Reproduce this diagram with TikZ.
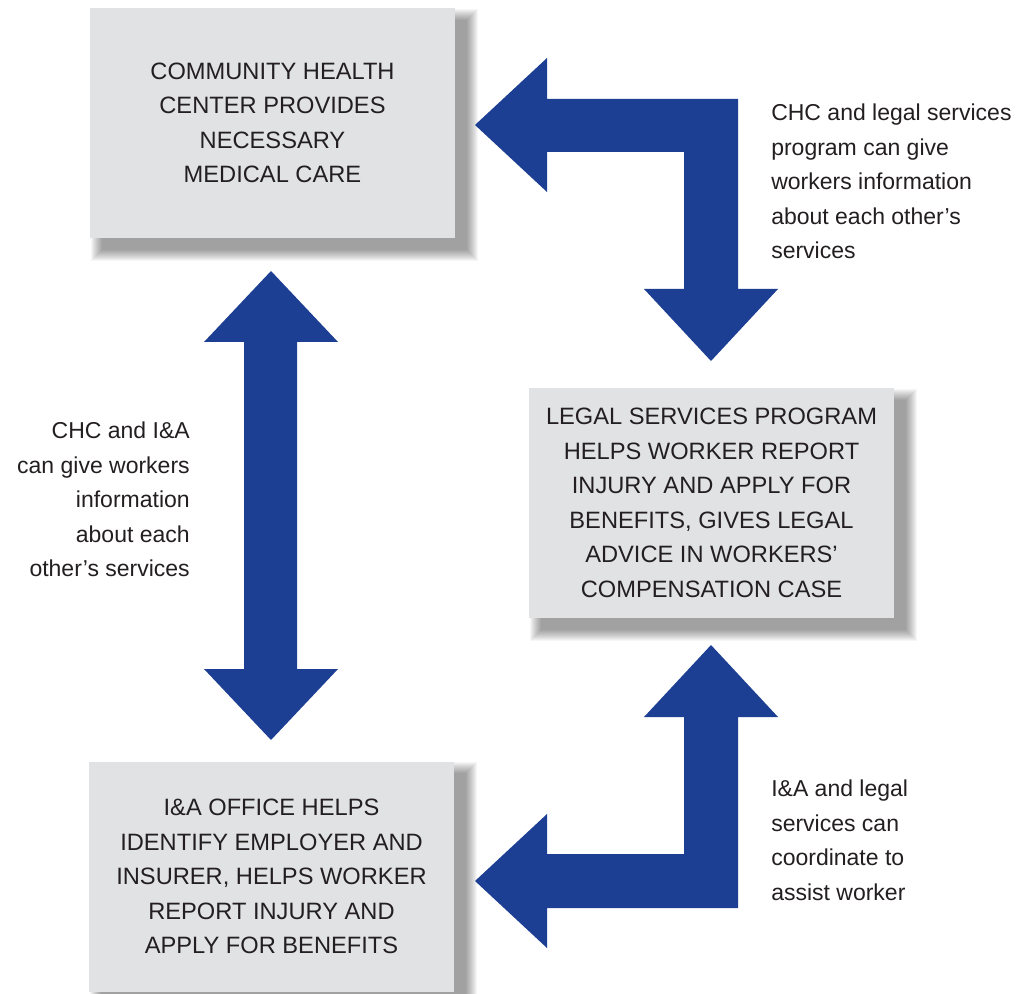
\documentclass[tikz,border=0pt]{standalone}
\usepackage{fontspec}
\setmainfont{Liberation Sans}
\pgfdeclarelayer{background}
\pgfdeclarelayer{canvas}
\pgfsetlayers{canvas,background,main}
\definecolor{boxgray}{HTML}{E1E2E4}
\definecolor{arrowblue}{HTML}{1D3F93}
\definecolor{txt}{HTML}{231F20}
\tikzset{
  infobox/.style={fill=boxgray, minimum width=273.75pt, minimum height=172.5pt, inner sep=0pt, align=center, text=txt, font=\fontsize{17.75}{25.9}\selectfont},
  note/.style={inner sep=0pt, text=txt, font=\fontsize{17.25}{25.9}\selectfont},
  blockarrow/.style={fill=arrowblue, draw=none}
}
\newcommand{\boxshade}[1]{%
  \begin{pgfonlayer}{background}
  \foreach \i in {0,...,11}{
    \fill[black, opacity=0.035] ([shift={(1+\i,1+\i)}]#1.north west) rectangle ([shift={(23-\i,23-\i)}]#1.south east);
  }
  \end{pgfonlayer}}
\begin{document}
\begin{tikzpicture}[x=0.75pt, y=-0.75pt]
\begin{pgfonlayer}{canvas}
\fill[white] (0,0) rectangle (1020,994);
\end{pgfonlayer}
\useasboundingbox (0,0) rectangle (1020,994);

\node[infobox] (chc) at (272.5,123) {COMMUNITY HEALTH\\CENTER PROVIDES\\NECESSARY\\MEDICAL CARE};
\node[infobox] (legal) at (711.5,503) {LEGAL SERVICES PROGRAM\\HELPS WORKER REPORT\\INJURY AND APPLY FOR\\BENEFITS, GIVES LEGAL\\ADVICE IN WORKERS'\\COMPENSATION CASE};
\node[infobox] (ia) at (271.5,876.5) {I\&A OFFICE HELPS\\IDENTIFY EMPLOYER AND\\INSURER, HELPS WORKER\\REPORT INJURY AND\\APPLY FOR BENEFITS};
\boxshade{chc}
\boxshade{legal}
\boxshade{ia}

% vertical double arrow (CHC <-> I&A)
\fill[blockarrow] (271,271) -- (338,342) -- (297,342) -- (297,669) -- (338,669) -- (271,740)
  -- (204,669) -- (244,669) -- (244,342) -- (204,342) -- cycle;

% top-right L arrow (CHC <-> Legal)
\fill[blockarrow] (475,125) -- (547,58) -- (547,99) -- (738,99) -- (738,289) -- (778,289)
  -- (711,361) -- (644,289) -- (684,289) -- (684,152) -- (547,152) -- (547,192) -- cycle;

% bottom L arrow (I&A <-> Legal)
\fill[blockarrow] (711,645) -- (778,717) -- (738,717) -- (738,908) -- (547,908) -- (547,948)
  -- (475,881) -- (547,814) -- (547,854) -- (684,854) -- (684,717) -- (644,717) -- cycle;

\node[note, anchor=west, align=left] (n1) at (771,181.5) {CHC and legal services\\program can give\\workers information\\about each other’s\\services};
\node[note, anchor=east, align=right] (n2) at (190,499.5) {CHC and I\&A\\can give workers\\information\\about each\\other’s services};
\node[note, anchor=west, align=left] (n3) at (771,840.5) {I\&A and legal\\services can\\coordinate to\\assist worker};
\end{tikzpicture}
\end{document}
